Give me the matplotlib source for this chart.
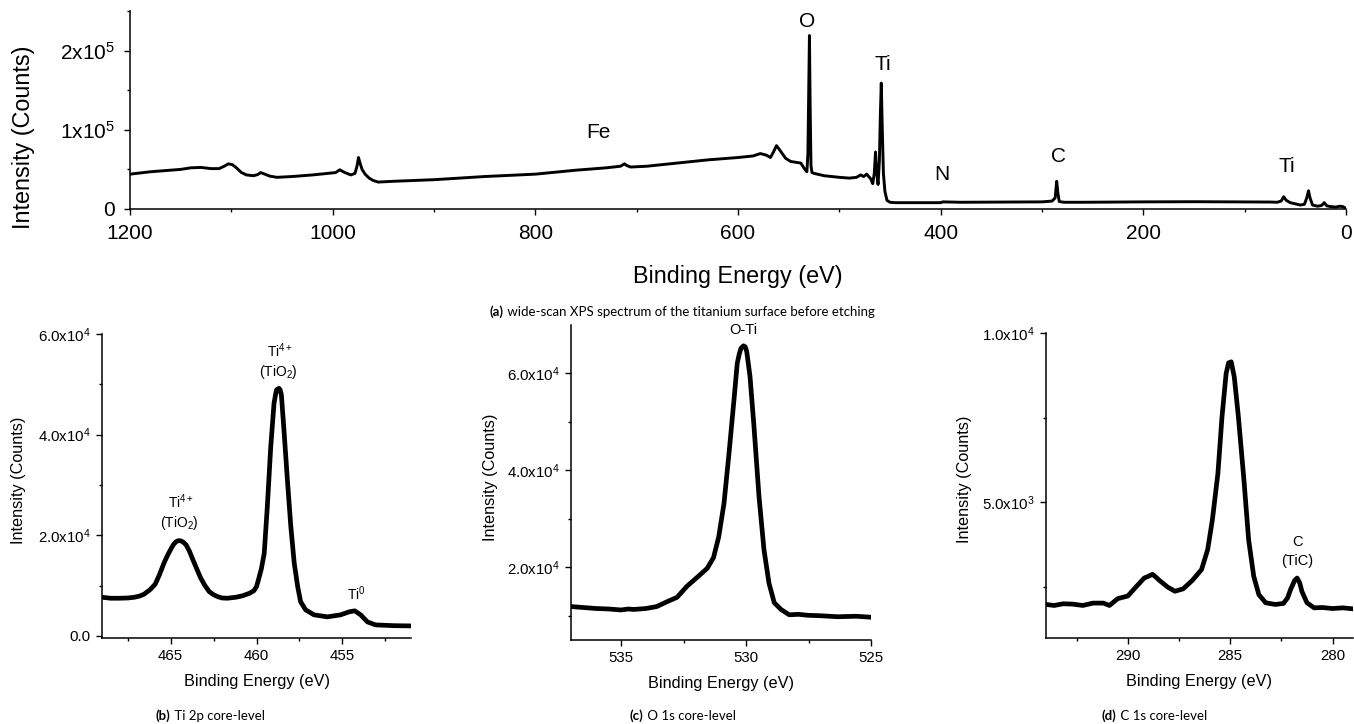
import matplotlib
matplotlib.use('Agg')
import matplotlib.pyplot as plt
from matplotlib.ticker import FixedLocator

plt.rcParams['font.family'] = ['Liberation Sans', 'DejaVu Sans']
plt.rcParams['mathtext.fontset'] = 'custom'
plt.rcParams['mathtext.rm'] = 'Liberation Sans'
plt.rcParams['mathtext.default'] = 'regular'

W, H = 1354, 724

# wide scan
wide_e = [1200, 1190, 1180, 1170, 1160, 1150, 1140, 1130, 1120, 1112, 1107, 1103, 1099, 1095, 1090, 1085, 1078,
          1074, 1071, 1067, 1062, 1055, 1040, 1020, 1005, 997, 993, 988, 982, 978, 976, 974.5, 973, 971, 968,
          964, 960, 955, 940, 900, 850, 800, 760, 730, 716, 712, 710, 706, 690, 660, 630, 600, 585, 578, 572,
          568, 565, 562, 558, 553, 548, 543, 538, 534, 532, 531, 530.2, 529.5, 528.8, 528, 527, 525, 515, 500,
          490, 483, 479, 476, 473, 471, 469, 467, 465.5, 464.3, 463, 461.8, 460.5, 459.5, 458.6, 457.6, 456.5,
          455, 453, 450, 445, 420, 400, 398, 380, 340, 300, 290, 287, 285.5, 284.3, 283, 281, 278, 260, 200,
          150, 100, 75, 68, 64, 61.5, 59, 55, 50, 45, 41, 38.5, 37, 35.5, 33, 28, 24, 21.5, 19, 15, 10, 6,
          3, 1, 0]
wide_i = [44000, 45500, 47000, 48000, 49000, 50000, 52000, 52500, 51000, 51000, 54000, 57000, 56000, 52000, 46000,
          43000, 42000, 43500, 46000, 44000, 41500, 40000, 41000, 43000, 45000, 46000, 49500, 46000, 43000, 45000,
          54000, 65000, 58000, 50000, 44000, 39000, 36000, 34000, 35000, 37000, 41000, 44000, 49000, 52000, 54000,
          57000, 55000, 53000, 54000, 58000, 62000, 65000, 67000, 70000, 68000, 65000, 72000, 80000, 73000, 64000,
          60000, 59000, 58000, 50000, 47000, 70000, 150000, 219000, 130000, 55000, 46000, 45000, 42000, 40000, 39000,
          40000, 43000, 41000, 44000, 41000, 38000, 32000, 45000, 72000, 45000, 31000, 60000, 120000, 159000,
          100000, 45000, 22000, 11000, 8500, 8000, 8000, 8000, 9000, 8500, 8800, 9000, 10000, 14000, 35000, 20000,
          9500, 9000, 8500, 8500, 9000, 9200, 9000, 8800, 8500, 10000, 15500, 11000, 8000, 6500, 5000, 6000, 15000,
          23000, 14000, 5000, 3500, 4500, 8000, 4000, 3000, 2500, 3500, 3000, 1500, 0]
wide_labels = ['O', 'Ti', 'Fe', 'N', 'C', 'Ti']
wide_label_e = [532, 457, 738, 399, 284, 58]
wide_label_i = [237000, 183000, 96000, 44000, 66000, 54000]

# Ti 2p
ti_e = [469, 468.5, 468, 467.5, 467.1, 466.8, 466.55, 466.2, 465.9, 465.65, 465.4, 465.2, 465, 464.85, 464.7, 464.55,
        464.4, 464.25, 464.1, 463.9, 463.7, 463.45, 463.25, 463, 462.75, 462.5, 462.25, 462, 461.7, 461.2, 460.8,
        460.4, 460.15, 460, 459.9, 459.72, 459.55, 459.37, 459.17, 458.98, 458.9, 458.83, 458.76, 458.69, 458.62,
        458.55, 458.4, 458.2, 458.0, 457.8, 457.6, 457.43, 457.14, 456.65, 455.87, 455.1, 454.6, 454.28, 453.93,
        453.54, 453.06, 452, 451]
ti_i = [7700, 7500, 7500, 7550, 7700, 7950, 8300, 9200, 10300, 12200, 14400, 15900, 17200, 18100, 18700, 18950,
        18900, 18600, 18100, 16800, 15100, 13100, 11500, 10000, 8800, 8200, 7800, 7550, 7500, 7700, 8000,
        8500, 9000, 9800, 11000, 13300, 16400, 25700, 37600, 46200, 47800, 48900, 49100, 49200, 48900,
        47900, 40900, 31000, 21700, 14400, 9800, 6800, 5200, 4200, 3800, 4200, 4800, 5000, 4200,
        2800, 2200, 2050, 2000]
ti_labels = ['Ti$^{4+}$', '(TiO$_{2}$)', 'Ti$^{4+}$', '(TiO$_{2}$)', 'Ti$^{0}$']
ti_label_e = [458.6, 458.7, 464.4, 464.5, 454.2]
ti_label_i = [56600, 52400, 26600, 22400, 8500]

# O 1s
o_e = [537, 536.5, 536, 535.5, 535, 534.7, 534.5, 534, 533.57, 533.16, 532.76, 532.36, 531.96, 531.55, 531.3, 531.09,
       530.88, 530.68, 530.48, 530.35, 530.27, 530.2, 530.1, 530.03, 529.97, 529.84, 529.68, 529.48, 529.28, 529.08,
       528.87, 528.6, 528.27, 527.9, 527.53, 527, 526.33, 525.6, 525]
o_i = [11900, 11700, 11500, 11400, 11200, 11400, 11300, 11500, 11900, 12900, 13800, 16100, 17900, 19800, 22000, 26300,
       33200, 43500, 54600, 62100, 64000, 65200, 65700, 65500, 64500, 59400, 49000, 34600, 23600, 16700,
       12700, 11300, 10200, 10300, 10100, 10000, 9800, 9900, 9700]

# C 1s
c_e = [294, 293.6, 293.16, 292.7, 292.2, 291.7, 291.2, 290.9, 290.7, 290.5, 290, 289.6, 289.2, 289, 288.8, 288.6, 288.46,
       288.05, 287.7, 287.3, 286.85, 286.4, 286.1, 285.87, 285.6, 285.4, 285.2, 285.08, 284.95, 284.8, 284.6, 284.33,
       284.1, 283.85, 283.6, 283.27, 282.8, 282.4, 282.2, 282.05, 281.85, 281.73, 281.6, 281.5, 281.25, 280.9, 280.5,
       280, 279.5, 279]
c_i = [1990, 1960, 2010, 2000, 1960, 2030, 2030, 1960, 2060, 2160, 2240, 2510, 2770, 2820, 2880, 2780, 2700,
       2500, 2380, 2450, 2700, 3020, 3610, 4490, 5860, 7530, 8800, 9120, 9150, 8700, 7530, 5670,
       3900, 2820, 2280, 2040, 1990, 2020, 2180, 2430, 2700, 2770, 2620, 2380, 2040, 1890, 1900,
       1870, 1890, 1860]


def make_axes(left, top, right, bottom):
    # axes box given in image pixels
    ax = plt.gcf().add_axes([left / W, 1 - bottom / H, (right - left) / W, (bottom - top) / H])
    ax.spines['top'].set_visible(False)
    ax.spines['right'].set_visible(False)
    ax.spines['left'].set_linewidth(1.1)
    ax.spines['bottom'].set_linewidth(1.1)
    return ax


def style_axes(ax, xlim, ylim, xticks, xminor, yticks, ylabels, yminor, tick_size, label_size, pad, labelpad):
    ax.set_xlim(xlim)
    ax.set_ylim(ylim)
    ax.set_xticks(xticks)
    ax.set_xticklabels([str(t) for t in xticks])
    ax.xaxis.set_minor_locator(FixedLocator(xminor))
    ax.set_yticks(yticks)
    ax.set_yticklabels(ylabels)
    ax.yaxis.set_minor_locator(FixedLocator(yminor))
    ax.tick_params(which='major', length=4, width=1, labelsize=tick_size, pad=pad)
    ax.tick_params(which='minor', length=2.5, width=1)
    ax.set_xlabel('Binding Energy (eV)', fontsize=label_size, labelpad=labelpad)
    ax.set_ylabel('Intensity (Counts)', fontsize=label_size)


fig = plt.figure(figsize=(W / 100, H / 100), dpi=100)

ax_a = make_axes(130, 11, 1346, 209)
ax_a.plot(wide_e, wide_i, color='black', lw=2.1)
style_axes(ax_a, (1200, 0), (0, 250000), [1200, 1000, 800, 600, 400, 200, 0], [1100, 900, 700, 500, 300, 100],
           [0, 100000, 200000], ['0', '1x10$^{5}$', '2x10$^{5}$'], [50000, 150000, 250000], 15, 16.8, 7, 16)
ax_a.yaxis.set_label_coords(-0.078, 0.36)
for lab, e, i in zip(wide_labels, wide_label_e, wide_label_i):
    ax_a.text(e, i, lab, fontsize=15, ha='center', va='center')

ax_b = make_axes(102, 334, 411, 638)
ax_b.plot(ti_e, ti_i, color='black', lw=3.4)
style_axes(ax_b, (469, 451), (-400, 60000), [465, 460, 455], [467.5, 462.5, 457.5, 452.5],
           [0, 20000, 40000, 60000], ['0.0', '2.0x10$^{4}$', '4.0x10$^{4}$', '6.0x10$^{4}$'],
           [10000, 30000, 50000], 10.8, 11.7, 4, 8)
ax_b.yaxis.set_label_coords(-0.246, 0.52)
for lab, e, i in zip(ti_labels, ti_label_e, ti_label_i):
    ax_b.text(e, i, lab, fontsize=10, ha='center', va='center')

ax_c = make_axes(571, 325, 871, 640)
ax_c.plot(o_e, o_i, color='black', lw=3.4)
style_axes(ax_c, (537, 525), (5000, 70000), [535, 530, 525], [532.5, 527.5],
           [20000, 40000, 60000], ['2.0x10$^{4}$', '4.0x10$^{4}$', '6.0x10$^{4}$'],
           [10000, 30000, 50000], 10.8, 11.7, 4, 8)
ax_c.yaxis.set_label_coords(-0.243, 0.517)
ax_c.text(530.1, 68900, 'O-Ti', fontsize=10.5, ha='center', va='center')

ax_d = make_axes(1046, 333, 1353, 638)
ax_d.plot(c_e, c_i, color='black', lw=3.4)
style_axes(ax_d, (294, 279), (1000, 10000), [290, 285, 280], [292.5, 287.5, 282.5],
           [5000, 10000], ['5.0x10$^{3}$', '1.0x10$^{4}$'], [2500, 7500], 10.8, 11.7, 4, 8)
ax_d.yaxis.set_label_coords(-0.241, 0.52)
ax_d.text(281.7, 3820, 'C', fontsize=10.5, ha='center', va='center')
ax_d.text(281.73, 3260, '(TiC)', fontsize=10.5, ha='center', va='center')

# captions with a bold letter in front
captions = [('(a)', ' wide-scan XPS spectrum of the titanium surface before etching', 490, 312),
            ('(b)', ' Ti 2p core-level', 156, 716),
            ('(c)', ' O 1s core-level', 630, 716),
            ('(d)', ' C 1s core-level', 1102, 716)]
for head, rest, x, y in captions:
    t = fig.text(x / W, 1 - y / H, head, fontsize=9.5, family=['Lato', 'DejaVu Sans'], fontweight='bold',
                 ha='left', va='center')
    fig.canvas.draw()
    box = t.get_window_extent()
    fig.text(box.x1 / W, 1 - y / H, rest, fontsize=9.5, family=['Lato', 'DejaVu Sans'], ha='left', va='center')

fig.savefig('out.png', dpi=100)
